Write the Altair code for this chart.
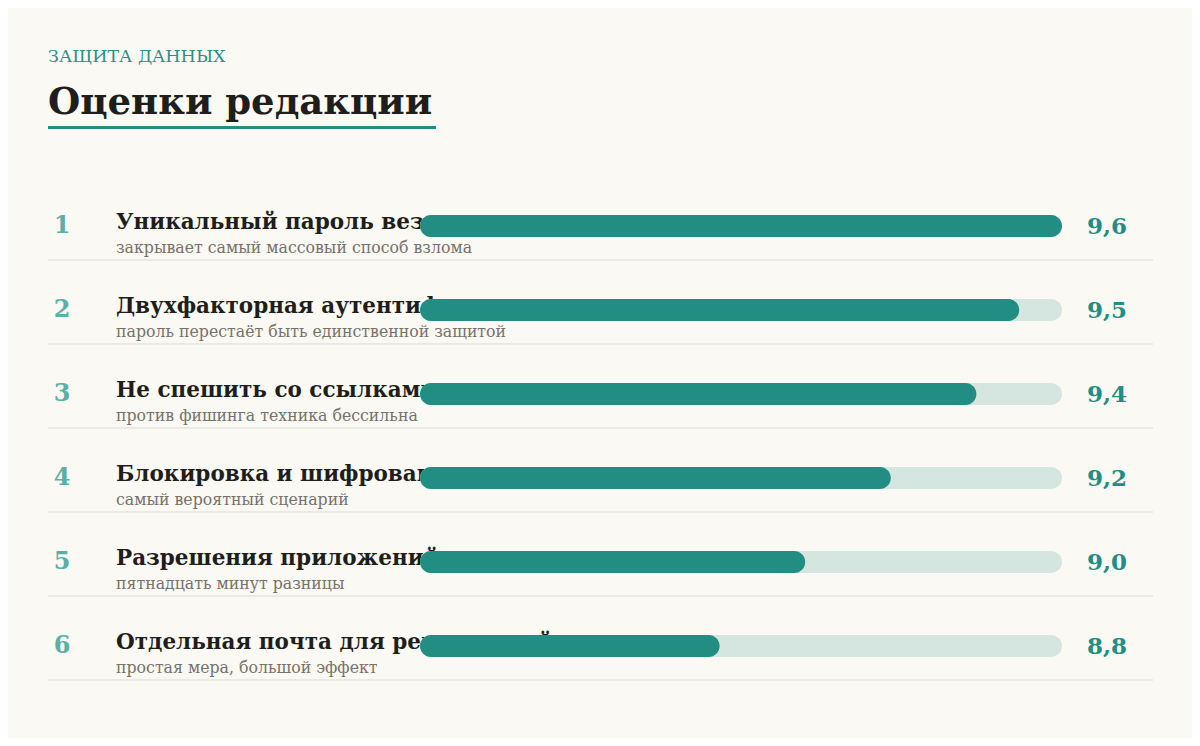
import altair as alt
import pandas as pd

# ---- data ----
ranks = [1, 2, 3, 4, 5, 6]
titles = [
    "Уникальный пароль везде",
    "Двухфакторная аутентификация",
    "Не спешить со ссылками",
    "Блокировка и шифрование",
    "Разрешения приложений",
    "Отдельная почта для регистраций",
]
subtitles = [
    "закрывает самый массовый способ взлома",
    "пароль перестаёт быть единственной защитой",
    "против фишинга техника бессильна",
    "самый вероятный сценарий",
    "пятнадцать минут разницы",
    "простая мера, большой эффект",
]
scores = [9.6, 9.5, 9.4, 9.2, 9.0, 8.8]
score_labels = ["9,6", "9,5", "9,4", "9,2", "9,0", "8,8"]
kicker = "ЗАЩИТА ДАННЫХ"
headline = "Оценки редакции"

SCALE_MIN = 8.1
SCALE_MAX = 9.6

df = pd.DataFrame({
    "rank": ranks,
    "title": titles,
    "subtitle": subtitles,
    "score": scores,
    "label": score_labels,
})

FONT = "DejaVu Serif"
TEAL = "#218D83"
TRACK = "#D5E6E0"
RANKC = "#5CAFA6"
DARK = "#1E1E1C"
GREY = "#77716A"
SEP = "#DDD9CF"
BG = "#FAF9F3"

xscale = alt.Scale(domain=[SCALE_MIN, SCALE_MAX], range=[412, 1054], zero=False, nice=False, padding=0)
yscale = alt.Scale(domain=[0, 6], range=[134, 638], zero=False, nice=False, padding=0)

base = alt.Chart(df).transform_calculate(
    lo=str(SCALE_MIN), hi=str(SCALE_MAX), sep="datum.rank + 34/84"
)

Y = alt.Y("rank:Q", scale=yscale, axis=None)

sep = base.mark_rule(color=SEP, strokeWidth=1).encode(
    x=alt.value(40), x2=alt.value(1145),
    y=alt.Y("sep:Q", scale=yscale, axis=None),
)

title_txt = base.mark_text(
    align="left", baseline="alphabetic", dy=3, font=FONT, fontSize=21.5,
    fontWeight="bold", color=DARK,
).encode(x=alt.value(108), y=Y, text="title:N")

sub_txt = base.mark_text(
    align="left", baseline="alphabetic", dy=26.5, font=FONT, fontSize=15.75,
    color=GREY,
).encode(x=alt.value(108), y=Y, text="subtitle:N")

track = base.mark_bar(orient="horizontal", size=22, cornerRadius=11, color=TRACK).encode(
    x=alt.X("lo:Q", scale=xscale, axis=None), x2="hi:Q", y=Y,
)

bar = base.mark_bar(orient="horizontal", size=22, cornerRadius=11, color=TEAL).encode(
    x=alt.X("lo:Q", scale=xscale, axis=None), x2="score:Q", y=Y,
)

rank_txt = base.mark_text(
    align="center", baseline="alphabetic", dy=7, font=FONT, fontSize=24,
    fontWeight="bold", color=RANKC,
).encode(x=alt.value(54), y=Y, text="rank:N")

val_txt = base.mark_text(
    align="left", baseline="alphabetic", dy=8, font=FONT, fontSize=23,
    fontWeight="bold", color=TEAL,
).encode(x=alt.value(1079), y=Y, text="label:N")

hdr = alt.Chart(pd.DataFrame({"k": [kicker], "h": [headline]}))
kick_txt = hdr.mark_text(
    align="left", baseline="alphabetic", font=FONT, fontSize=17.5, color="#2A9088",
).encode(x=alt.value(40), y=alt.value(54), text="k:N")
head_txt = hdr.mark_text(
    align="left", baseline="alphabetic", font=FONT, fontSize=37, fontWeight="bold", color=DARK,
).encode(x=alt.value(40), y=alt.value(106), text="h:N")
underline = hdr.mark_rule(color=TEAL, strokeWidth=3).encode(
    x=alt.value(40), x2=alt.value(428), y=alt.value(119.5),
)

chart = alt.layer(
    sep, title_txt, sub_txt, track, bar, rank_txt, val_txt, kick_txt, head_txt, underline
).properties(
    width=1184, height=730, padding=0, autosize=alt.AutoSizeParams(type="none"),
    background=BG,
).configure_view(stroke=None)

chart.save("out.html", embed_options={"renderer": "svg", "actions": False})
